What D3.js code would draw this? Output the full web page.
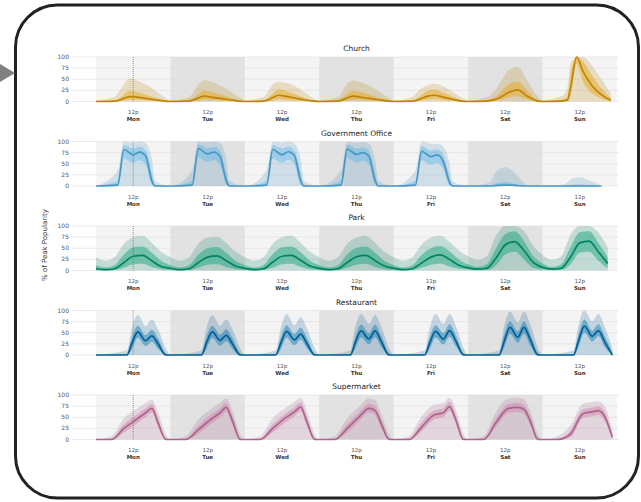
<!DOCTYPE html>
<html>
<head>
<meta charset="utf-8">
<script src="https://cdn.jsdelivr.net/npm/d3@7"></script>
<style>
  body { margin: 0; background: #fff; }
  svg { display: block; font-family: "DejaVu Sans", sans-serif; }
</style>
</head>
<body>
<svg id="chart" width="641" height="502"></svg>
<script>
// categories, colours and tick labels
const categories = ["Church", "Government Office", "Park", "Restaurant", "Supermarket"];
const colors = ["#E69F00", "#56B4E9", "#009E73", "#0072B2", "#CC79A7"];
const dayNames = ["Mon", "Tue", "Wed", "Thu", "Fri", "Sat", "Sun"];
const yTicks = [0, 25, 50, 75, 100];
const yTitle = "% of Peak Popularity";

// hour-of-day knots per category, one row of values per day (Mon..Sun)
const churchHours = [0, 6, 8, 9, 11, 13, 16, 19, 22];
const churchMed = [
  [0, 1, 4, 7, 11, 10, 7, 4, 1],
  [0, 1, 5, 8, 12, 10, 7, 4, 1],
  [0, 1, 5, 9, 14, 12, 8, 4, 1],
  [0, 1, 5, 8, 12, 10, 7, 4, 1],
  [0, 1, 4, 7, 12, 14, 10, 5, 1],
  [0, 1, 3, 5, 12, 20, 26, 12, 2],
  [0, 1, 3, 30, 100, 68, 35, 15, 3]
];
const churchQ25 = [
  [0, 0, 1, 2, 4, 4, 2, 1, 0],
  [0, 0, 1, 2, 4, 4, 2, 1, 0],
  [0, 0, 1, 2, 5, 4, 2, 1, 0],
  [0, 0, 1, 2, 4, 4, 2, 1, 0],
  [0, 0, 1, 2, 4, 5, 3, 1, 0],
  [0, 0, 1, 2, 5, 9, 12, 5, 0],
  [0, 0, 1, 12, 85, 45, 18, 6, 0]
];
const churchQ75 = [
  [0, 3, 10, 16, 24, 22, 16, 9, 3],
  [0, 3, 11, 17, 25, 22, 16, 9, 3],
  [0, 3, 12, 18, 28, 25, 17, 9, 3],
  [0, 3, 11, 17, 25, 22, 16, 9, 3],
  [0, 3, 10, 15, 24, 27, 20, 11, 3],
  [0, 3, 8, 12, 25, 38, 45, 25, 5],
  [0, 4, 10, 60, 100, 90, 58, 30, 8]
];
const churchHi = [
  [2, 10, 28, 38, 52, 48, 38, 25, 10],
  [2, 10, 28, 38, 48, 45, 36, 24, 10],
  [2, 10, 28, 38, 45, 42, 35, 22, 8],
  [2, 10, 30, 40, 48, 44, 36, 24, 10],
  [2, 10, 24, 30, 36, 40, 34, 22, 8],
  [2, 10, 20, 28, 50, 70, 78, 48, 15],
  [3, 12, 30, 85, 100, 100, 80, 50, 18]
];

const govHours = [0, 7, 9, 12, 14, 16, 18, 19];
const govMed = [
  [0, 2, 82, 70, 76, 68, 12, 0],
  [0, 2, 84, 72, 76, 66, 12, 0],
  [0, 2, 82, 70, 77, 68, 12, 0],
  [0, 2, 83, 71, 75, 67, 12, 0],
  [0, 2, 78, 66, 70, 55, 8, 0],
  [0, 0, 1, 2, 2, 1, 0, 0],
  [0, 0, 0, 0, 0, 0, 0, 0]
];
const govQ25 = [
  [0, 0, 62, 52, 58, 48, 3, 0],
  [0, 0, 64, 54, 58, 47, 3, 0],
  [0, 0, 62, 52, 59, 48, 3, 0],
  [0, 0, 63, 53, 57, 48, 3, 0],
  [0, 0, 58, 48, 52, 38, 1, 0],
  [0, 0, 0, 0, 0, 0, 0, 0],
  [0, 0, 0, 0, 0, 0, 0, 0]
];
const govQ75 = [
  [0, 12, 92, 84, 88, 80, 30, 3],
  [0, 12, 94, 85, 88, 80, 30, 3],
  [0, 12, 92, 84, 89, 80, 30, 3],
  [0, 12, 93, 84, 87, 79, 30, 3],
  [0, 12, 90, 80, 82, 70, 22, 2],
  [0, 0, 6, 9, 7, 3, 1, 0],
  [0, 0, 2, 4, 3, 2, 0, 0]
];
const govHi = [
  [0, 35, 100, 98, 100, 96, 60, 12],
  [0, 35, 100, 98, 100, 96, 60, 12],
  [0, 35, 100, 98, 100, 95, 60, 12],
  [0, 35, 100, 97, 99, 95, 58, 12],
  [0, 35, 100, 95, 95, 88, 50, 10],
  [0, 8, 32, 42, 36, 22, 8, 2],
  [0, 4, 14, 20, 16, 10, 4, 0]
];

const parkHours = [0, 3, 6, 9, 12, 15, 18, 21];
const parkMed = [
  [4, 2, 4, 18, 32, 34, 22, 9],
  [5, 2, 4, 18, 30, 33, 22, 10],
  [5, 2, 4, 19, 32, 34, 23, 10],
  [5, 2, 4, 18, 31, 34, 22, 10],
  [5, 2, 4, 17, 30, 35, 25, 12],
  [6, 3, 5, 28, 58, 65, 45, 18],
  [7, 3, 5, 30, 62, 66, 42, 16]
];
const parkQ25 = [
  [1, 0, 1, 6, 14, 15, 8, 3],
  [1, 0, 1, 6, 13, 14, 8, 3],
  [1, 0, 1, 6, 14, 15, 8, 3],
  [1, 0, 1, 6, 13, 15, 8, 3],
  [1, 0, 1, 6, 13, 16, 9, 4],
  [2, 1, 1, 12, 36, 42, 25, 6],
  [2, 1, 1, 14, 40, 42, 22, 5]
];
const parkQ75 = [
  [12, 7, 12, 36, 52, 54, 40, 22],
  [12, 7, 12, 36, 50, 53, 40, 22],
  [12, 7, 12, 37, 52, 54, 41, 22],
  [12, 7, 12, 36, 51, 54, 40, 22],
  [12, 7, 12, 35, 50, 55, 43, 25],
  [14, 8, 14, 50, 82, 88, 66, 32],
  [16, 8, 14, 52, 86, 88, 62, 30]
];
const parkHi = [
  [30, 22, 30, 60, 75, 78, 62, 42],
  [30, 22, 30, 60, 74, 76, 62, 42],
  [30, 22, 30, 60, 75, 78, 62, 42],
  [30, 22, 30, 60, 74, 78, 62, 42],
  [30, 22, 30, 58, 74, 78, 64, 45],
  [32, 24, 32, 78, 100, 100, 88, 55],
  [35, 24, 32, 80, 100, 100, 85, 52]
];

const restHours = [0, 10, 11.5, 13.5, 16, 18, 20, 22.5];
const restMed = [
  [0, 0, 25, 52, 32, 43, 25, 0],
  [0, 0, 25, 52, 33, 44, 25, 0],
  [0, 0, 25, 53, 34, 47, 26, 0],
  [0, 0, 26, 54, 36, 54, 30, 0],
  [0, 0, 25, 53, 36, 55, 32, 0],
  [0, 0, 28, 62, 40, 62, 35, 0],
  [0, 0, 30, 65, 42, 55, 30, 0]
];
const restQ25 = [
  [0, 0, 12, 38, 20, 30, 14, 0],
  [0, 0, 12, 38, 21, 31, 14, 0],
  [0, 0, 12, 39, 22, 34, 15, 0],
  [0, 0, 13, 40, 24, 40, 18, 0],
  [0, 0, 12, 39, 24, 41, 20, 0],
  [0, 0, 15, 48, 28, 48, 22, 0],
  [0, 0, 16, 50, 30, 42, 18, 0]
];
const restQ75 = [
  [0, 2, 38, 66, 45, 57, 38, 4],
  [0, 2, 38, 66, 46, 58, 38, 4],
  [0, 2, 38, 67, 47, 61, 39, 4],
  [0, 2, 39, 68, 49, 68, 43, 4],
  [0, 2, 38, 67, 49, 69, 45, 5],
  [0, 2, 42, 76, 53, 76, 48, 5],
  [0, 2, 44, 80, 55, 69, 43, 4]
];
const restHi = [
  [0, 10, 58, 90, 65, 80, 58, 15],
  [0, 10, 58, 90, 66, 80, 58, 15],
  [0, 10, 58, 92, 67, 84, 60, 15],
  [0, 10, 60, 92, 70, 90, 64, 15],
  [0, 10, 58, 92, 70, 92, 66, 16],
  [0, 10, 62, 98, 74, 98, 70, 16],
  [0, 10, 64, 100, 76, 92, 64, 15]
];

const supHours = [0, 5, 9, 13, 16, 18, 20, 22.5];
const supMed = [
  [0, 0, 25, 45, 60, 70, 38, 0],
  [0, 0, 22, 45, 60, 72, 42, 0],
  [0, 0, 25, 48, 62, 73, 40, 0],
  [0, 0, 25, 52, 70, 65, 35, 0],
  [0, 0, 28, 55, 60, 74, 45, 0],
  [0, 0, 38, 70, 72, 68, 42, 0],
  [0, 0, 12, 58, 62, 65, 52, 5]
];
const supQ25 = [
  [0, 0, 16, 35, 50, 60, 28, 0],
  [0, 0, 13, 35, 50, 62, 32, 0],
  [0, 0, 16, 38, 52, 63, 30, 0],
  [0, 0, 16, 42, 60, 55, 25, 0],
  [0, 0, 18, 45, 50, 64, 35, 0],
  [0, 0, 28, 60, 62, 58, 32, 0],
  [0, 0, 5, 48, 52, 55, 42, 1]
];
const supQ75 = [
  [0, 2, 34, 55, 70, 80, 48, 4],
  [0, 2, 31, 55, 70, 82, 52, 4],
  [0, 2, 34, 58, 72, 83, 50, 4],
  [0, 2, 34, 62, 80, 75, 45, 4],
  [0, 2, 38, 65, 70, 84, 55, 4],
  [0, 2, 48, 80, 82, 78, 52, 4],
  [0, 2, 20, 68, 72, 75, 62, 10]
];
const supHi = [
  [0, 8, 48, 68, 82, 90, 62, 12],
  [0, 8, 45, 68, 82, 92, 66, 12],
  [0, 8, 48, 70, 84, 93, 64, 12],
  [0, 8, 48, 75, 92, 88, 58, 12],
  [0, 8, 52, 78, 82, 94, 68, 12],
  [0, 8, 62, 92, 94, 90, 65, 12],
  [0, 8, 32, 80, 84, 86, 75, 20]
];

const panels = [
  { hours: churchHours, med: churchMed, q25: churchQ25, q75: churchQ75, hi: churchHi },
  { hours: govHours, med: govMed, q25: govQ25, q75: govQ75, hi: govHi },
  { hours: parkHours, med: parkMed, q25: parkQ25, q75: parkQ75, hi: parkHi },
  { hours: restHours, med: restMed, q25: restQ25, q75: restQ75, hi: restHi },
  { hours: supHours, med: supMed, q25: supQ25, q75: supQ75, hi: supHi }
];

const svg = d3.select("#chart");

// frame and pointer
svg.append("rect")
  .attr("x", 15.5).attr("y", 5)
  .attr("width", 623).attr("height", 493)
  .attr("rx", 42).attr("ry", 42)
  .attr("fill", "none")
  .attr("stroke", "#222")
  .attr("stroke-width", 3);
svg.append("path")
  .attr("d", "M0,64L15,73L0,82Z")
  .attr("fill", "#808080");

const xLeft = 96, xRight = 617, top0 = 57, step = 84.5, ph = 44.5;
const x = d3.scaleLinear().domain([0, 168]).range([xLeft, xRight]);
const y = d3.scaleLinear().domain([0, 100]).range([ph, 0]);

// flatten day rows into week-long points
function weekPoints(hours, rows) {
  let pts = [];
  rows.forEach((row, d) => {
    row.forEach((v, k) => pts.push({ h: d * 24 + hours[k], v: v }));
  });
  return pts;
}

panels.forEach((p, i) => {
  const c = colors[i];
  const g = svg.append("g").attr("transform", `translate(0,${top0 + i * step})`);

  // light haze over the whole week (many individual places)
  g.append("rect")
    .attr("x", x(0)).attr("y", 0)
    .attr("width", x(168) - x(0)).attr("height", ph)
    .attr("fill", "#f4f4f4");

  // shaded alternate days
  g.selectAll(".day")
    .data([1, 3, 5])
    .enter().append("rect")
      .attr("x", d => x(d * 24))
      .attr("y", 0)
      .attr("width", x(24) - x(0))
      .attr("height", ph)
      .attr("fill", "#e2e2e2");

  // grid lines and y labels
  g.selectAll(".grid")
    .data(yTicks)
    .enter().append("line")
      .attr("x1", 72).attr("x2", xRight + 2)
      .attr("y1", d => y(d)).attr("y2", d => y(d))
      .attr("stroke", "#dddddd")
      .attr("stroke-width", 0.6);
  g.selectAll(".ylab")
    .data(yTicks)
    .enter().append("text")
      .attr("x", 69)
      .attr("y", d => y(d))
      .attr("dy", "0.35em")
      .attr("text-anchor", "end")
      .attr("font-size", 6)
      .attr("fill", "#555")
      .text(d => d);

  const med = weekPoints(p.hours, p.med);
  const q25 = weekPoints(p.hours, p.q25);
  const q75 = weekPoints(p.hours, p.q75);
  const hi = weekPoints(p.hours, p.hi);

  const curve = d3.curveMonotoneX;
  const areaFromZero = d3.area().curve(curve)
    .x(d => x(d.h)).y0(y(0)).y1(d => y(d.v));

  // outer haze (individual places)
  g.append("path").datum(hi)
    .attr("d", areaFromZero)
    .attr("fill", "#8c8c8c").attr("fill-opacity", 0.12);
  g.append("path").datum(hi)
    .attr("d", areaFromZero)
    .attr("fill", c).attr("fill-opacity", 0.16);

  // interquartile band
  const band = d3.area().curve(curve)
    .x(d => x(d.h))
    .y0((d, j) => y(q25[j].v))
    .y1(d => y(d.v));
  g.append("path").datum(q75)
    .attr("d", band)
    .attr("fill", c).attr("fill-opacity", 0.42);

  // current time marker
  g.append("line")
    .attr("x1", x(12)).attr("x2", x(12))
    .attr("y1", 0).attr("y2", ph)
    .attr("stroke", "#555")
    .attr("stroke-width", 0.6)
    .attr("stroke-dasharray", "1,1");

  // median
  const line = d3.line().curve(curve).x(d => x(d.h)).y(d => y(d.v));
  g.append("path").datum(med)
    .attr("d", line)
    .attr("fill", "none")
    .attr("stroke", d3.color(c).darker(0.5))
    .attr("stroke-width", 1.7);

  // title
  g.append("text")
    .attr("x", (xLeft + xRight) / 2)
    .attr("y", -6)
    .attr("text-anchor", "middle")
    .attr("font-size", 7.5)
    .attr("fill", "#222")
    .text(categories[i]);

  // x labels
  const xl = g.selectAll(".xlab")
    .data(dayNames)
    .enter().append("g")
      .attr("transform", (d, j) => `translate(${x(j * 24 + 12)},${ph})`);
  xl.append("text")
    .attr("y", 12.5)
    .attr("text-anchor", "middle")
    .attr("font-size", 5.5)
    .attr("fill", "#555")
    .text("12p");
  xl.append("text")
    .attr("y", 19.5)
    .attr("text-anchor", "middle")
    .attr("font-size", 5.5)
    .attr("font-weight", "bold")
    .attr("fill", "#333")
    .text(d => d);
});

svg.append("text")
  .attr("transform", "translate(47,245) rotate(-90)")
  .attr("text-anchor", "middle")
  .attr("font-size", 7)
  .attr("fill", "#333")
  .text(yTitle);
</script>
</body>
</html>
